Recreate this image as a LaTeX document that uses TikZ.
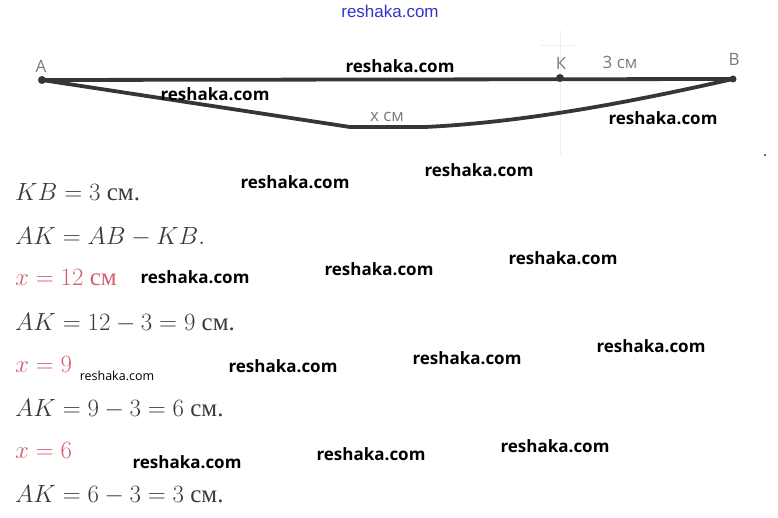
\documentclass[tikz,border=0pt]{standalone}
\usepackage{fontspec}
\setmainfont{Liberation Serif}
\newfontfamily\wmfont{Open Sans}
\newfontfamily\lblfont{Open Sans}
\newfontfamily\topfont{Liberation Sans}

\definecolor{segcol}{HTML}{363636}
\definecolor{lblcol}{HTML}{7A7A7A}
\definecolor{txtcol}{HTML}{3A3A3A}
\definecolor{redcol}{HTML}{D0606C}
\definecolor{topblue}{HTML}{3434C8}

\begin{document}
\begin{tikzpicture}[x=1pt, y=-1pt,
    seg/.style={line width=3.8pt, color=segcol, line join=round},
    pt/.style={circle, fill=segcol, inner sep=0pt, minimum size=8pt},
    lbl/.style={font=\lblfont\fontsize{17}{17}\selectfont, text=lblcol, inner sep=0pt},
    eqline/.style={anchor=base west, inner sep=0pt, text=txtcol, font=\fontsize{25}{25}\selectfont},
    xline/.style={eqline, text=redcol},
    wm/.style={font=\wmfont\fontsize{17}{17}\selectfont\bfseries, text=black, inner sep=0pt},
    wmsmall/.style={font=\wmfont\fontsize{12.5}{12.5}\selectfont, text=black, inner sep=0pt}]

    % Fix the page to the size of the picture
    \useasboundingbox (0,0) rectangle (778,518);

    % Define the end points of the segment and the point K
    \coordinate (A) at (42,80);
    \coordinate (K) at (560,78);
    \coordinate (B) at (733,79);

    % Faint construction lines near K
    \draw[black!6, line width=1pt] (560,30) -- (560,155);
    \draw[black!6, line width=1pt] (540,46) -- (578,46);

    % Draw the straight segment AB
    \draw[seg] (A) -- (B);

    % Draw the sagging line of length x from A to B
    \draw[seg] (A) -- (350,127) -- (425,127) .. controls (530,122) and (640,100) .. (B);

    % Points A, K, B
    \node[pt] (dotA) at (A) {};
    \node[pt] (dotK) at (K) {};
    \node[pt, minimum size=7pt] (dotB) at (B) {};

    % Labels of the points and lengths
    \node[lbl] (labA) at (41,66) {A};
    \node[lbl] (labK) at (561,63) {К};
    \node[lbl] (labB) at (734,59) {В};
    \node[lbl] (lab3) at (620,62) {3 см};
    \node[lbl] (labx) at (387,117) {х см};

    % Stray dot on the right
    \fill[segcol] (765,155) circle (1.2pt);

    % Working lines
    \node[eqline] (eq1) at (15,201) {$KB = 3$ см.};
    \node[eqline] (eq2) at (15,245) {$AK = AB - KB.$};
    \node[xline] (eq3) at (15,286) {$x = 12$ см};
    \node[eqline] (eq4) at (15,330) {$AK = 12 - 3 = 9$ см.};
    \node[xline] (eq5) at (15,372) {$x = 9$};
    \node[eqline] (eq6) at (15,416) {$AK = 9 - 3 = 6$ см.};
    \node[xline] (eq7) at (15,458) {$x = 6$};
    \node[eqline] (eq8) at (15,502) {$AK = 6 - 3 = 3$ см.};

    % Watermarks
    \node[font=\topfont\fontsize{17}{17}\selectfont, text=topblue, inner sep=0pt] (wmtop) at (390,11) {reshaka.com};
    \node[wm] (wm1) at (400,66) {reshaka.com};
    \node[wm] (wm2) at (215,94) {reshaka.com};
    \node[wm] (wm3) at (663,118) {reshaka.com};
    \node[wm] (wm4) at (479,170) {reshaka.com};
    \node[wm] (wm5) at (295,182) {reshaka.com};
    \node[wm] (wm6) at (195,277) {reshaka.com};
    \node[wm] (wm7) at (379,269) {reshaka.com};
    \node[wm] (wm8) at (563,258) {reshaka.com};
    \node[wmsmall] (wm9) at (117,376) {reshaka.com};
    \node[wm] (wm10) at (283,366) {reshaka.com};
    \node[wm] (wm11) at (467,358) {reshaka.com};
    \node[wm] (wm12) at (651,346) {reshaka.com};
    \node[wm] (wm13) at (187,462) {reshaka.com};
    \node[wm] (wm14) at (371,454) {reshaka.com};
    \node[wm] (wm15) at (555,446) {reshaka.com};

\end{tikzpicture}
\end{document}
